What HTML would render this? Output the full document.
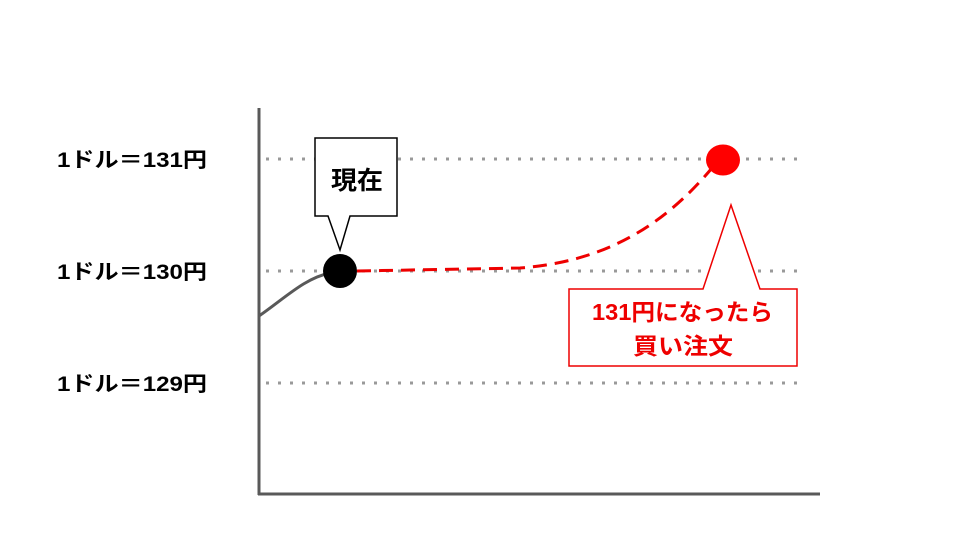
<!DOCTYPE html>
<html><head><meta charset="utf-8"><style>
body{margin:0;background:#fff;}
svg{display:block}
text{font-family:"Liberation Sans","Noto Sans CJK JP",sans-serif;font-weight:bold;}
</style></head><body>
<svg width="960" height="540" viewBox="0 0 960 540">
<g stroke="#999" stroke-width="3" stroke-dasharray="3 9" stroke-linecap="butt">
<line x1="266" y1="159" x2="800" y2="159"/>
<line x1="266" y1="271" x2="800" y2="271"/>
<line x1="266" y1="383" x2="800" y2="383"/>
</g>
<line x1="259" y1="108" x2="259" y2="495" stroke="#595959" stroke-width="3"/>
<line x1="258" y1="494" x2="820" y2="494" stroke="#595959" stroke-width="3"/>
<text x="57" y="167" font-size="21" textLength="150" lengthAdjust="spacingAndGlyphs">1ドル＝131円</text>
<text x="57" y="279" font-size="21" textLength="150" lengthAdjust="spacingAndGlyphs">1ドル＝130円</text>
<text x="57" y="391" font-size="21" textLength="150" lengthAdjust="spacingAndGlyphs">1ドル＝129円</text>
<path d="M259,316 C285,298 305,278 330,273" fill="none" stroke="#595959" stroke-width="3"/>
<path d="M357,271 L520,268 C600,262 660,230 712,168" fill="none" stroke="#e00" stroke-width="3" stroke-dasharray="14 8"/>
<circle cx="340" cy="271" r="17" fill="#000"/>
<ellipse cx="723" cy="160" rx="17" ry="15.5" fill="#f00"/>
<path d="M315,138 H397 V216 H350 L340,250 L328,216 H315 Z" fill="#fff" stroke="#000" stroke-width="1.5"/>
<text x="331" y="189" font-size="25" textLength="52" lengthAdjust="spacingAndGlyphs">現在</text>
<path d="M569,289 H703 L731,205 L760,289 H797 V366 H569 Z" fill="#fff" stroke="#e00" stroke-width="1.5"/>
<text x="592" y="320" font-size="23" fill="#e00" textLength="181" lengthAdjust="spacingAndGlyphs">131円になったら</text>
<text x="633" y="354" font-size="23" fill="#e00" textLength="100" lengthAdjust="spacingAndGlyphs">買い注文</text>
</svg>
</body></html>
